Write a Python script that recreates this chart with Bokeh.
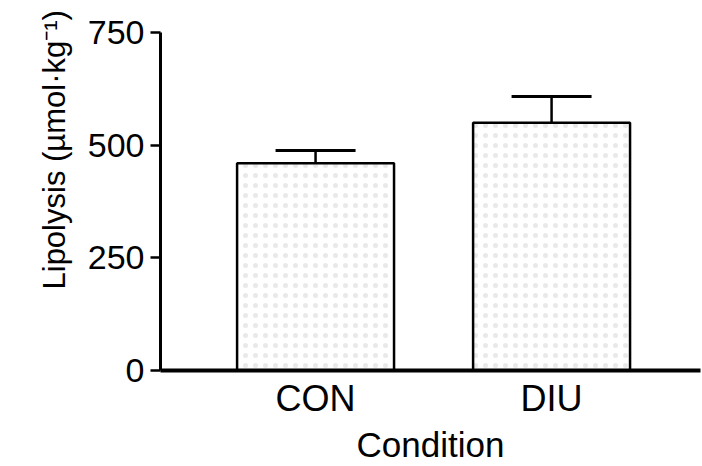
from bokeh.plotting import figure
from bokeh.models import (ColumnDataSource, FixedTicker, Range1d, Whisker,
                          TeeHead, Title)
from bokeh.embed import file_html
from bokeh.resources import INLINE

# Lipolysis by condition (mean with upward SE bar)
categories = ["CON", "DIU"]
lipolysis = [460, 550]
sem = [28, 58]
y_ticks = [0, 250, 500, 750]

xpos = [i + 1 for i in range(len(categories))]
upper = [m + e for m, e in zip(lipolysis, sem)]

src = ColumnDataSource(dict(x=xpos, top=lipolysis, upper=upper, base=lipolysis))

FONT = "Liberation Sans"

p = figure(width=702, height=466, output_backend="svg", toolbar_location=None,
           x_range=Range1d(0.343, 2.631), y_range=Range1d(0, 750),
           min_border_left=160, min_border_right=2, min_border_top=32,
           min_border_bottom=95)

p.vbar(x="x", top="top", bottom=0, width=0.665, source=src,
       fill_color="white", line_color="black", line_width=2.5,
       hatch_pattern="dot", hatch_color="#777777", hatch_alpha=0.16,
       hatch_scale=10, hatch_weight=1)

p.add_layout(Whisker(source=src, base="x", lower="base", upper="upper",
                     line_color="black", line_width=2.5, lower_head=None,
                     upper_head=TeeHead(size=80, line_width=3, line_color="black")))

p.xgrid.visible = False
p.ygrid.visible = False
p.outline_line_color = None
p.background_fill_color = "white"
p.border_fill_color = "white"

# y axis
p.yaxis.ticker = FixedTicker(ticks=y_ticks)
p.yaxis.axis_line_width = 3
p.yaxis.major_tick_line_width = 2.5
p.yaxis.major_tick_out = 10
p.yaxis.major_tick_in = 0
p.yaxis.minor_tick_line_color = None
p.yaxis.major_label_text_font = FONT
p.yaxis.major_label_text_font_size = "34px"
p.yaxis.major_label_text_color = "black"
p.yaxis.major_label_standoff = 6

# x axis
p.xaxis.ticker = FixedTicker(ticks=xpos)
p.xaxis.major_label_overrides = {x: c for x, c in zip(xpos, categories)}
p.xaxis.axis_line_width = 4
p.xaxis.major_tick_line_color = None
p.xaxis.minor_tick_line_color = None
p.xaxis.major_label_text_font = FONT
p.xaxis.major_label_text_font_size = "36px"
p.xaxis.major_label_text_color = "black"
p.xaxis.major_label_standoff = 1
p.xaxis.axis_label = "Condition"
p.xaxis.axis_label_text_font = FONT
p.xaxis.axis_label_text_font_size = "35px"
p.xaxis.axis_label_text_font_style = "normal"
p.xaxis.axis_label_text_color = "black"
p.xaxis.axis_label_standoff = 3

# vertical title for the y axis, shifted up from the frame's bottom
p.add_layout(Title(text="Lipolysis (µmol·kg⁻¹)", align="left", offset=81,
                   standoff=26, text_font=FONT, text_font_size="31px",
                   text_font_style="normal", text_color="black"), "left")

open("out.html", "w").write(file_html(p, INLINE))
